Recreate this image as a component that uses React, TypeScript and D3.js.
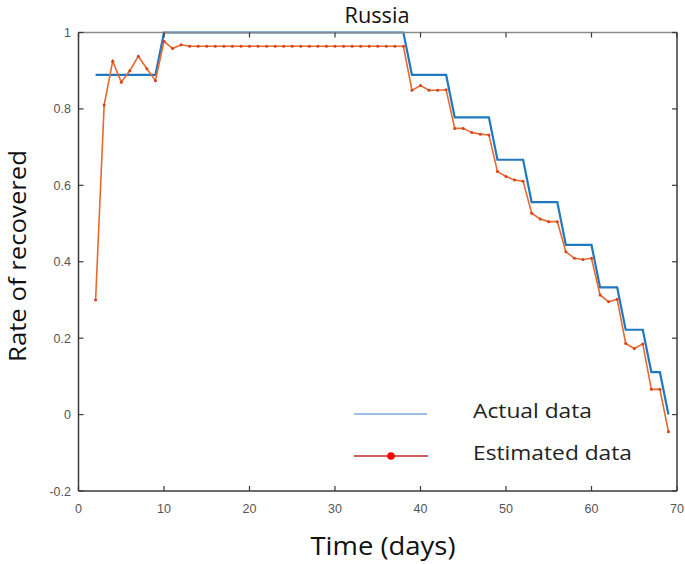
import React from "react";
import * as d3 from "d3";

const days = [2,3,4,5,6,7,8,9,10,11,12,13,14,15,16,17,18,19,20,21,22,23,24,25,26,27,28,29,30,31,32,33,34,35,36,37,38,39,40,41,42,43,44,45,46,47,48,49,50,51,52,53,54,55,56,57,58,59,60,61,62,63,64,65,66,67,68,69];

const actualData = [
  0.889,0.889,0.889,0.889,0.889,0.889,0.889,0.889,
  1,1,1,1,1,1,1,1,1,1,1,1,1,1,1,1,1,1,1,1,1,1,1,1,1,1,1,1,1,
  0.889,0.889,0.889,0.889,0.889,
  0.778,0.778,0.778,0.778,0.778,
  0.667,0.667,0.667,0.667,
  0.556,0.556,0.556,0.556,
  0.444,0.444,0.444,0.444,
  0.333,0.333,0.333,
  0.222,0.222,0.222,
  0.111,0.111,
  0
];

const estimatedData = [
  0.30,0.81,0.925,0.87,0.90,0.938,0.905,0.874,0.977,0.958,0.968,
  0.964,0.964,0.964,0.964,0.964,0.964,0.964,0.964,0.964,0.964,0.964,0.964,0.964,
  0.964,0.964,0.964,0.964,0.964,0.964,0.964,0.964,0.964,0.964,0.964,0.964,0.964,
  0.849,0.861,0.849,0.849,0.85,
  0.749,0.749,0.738,0.734,0.732,
  0.636,0.623,0.614,0.611,
  0.527,0.512,0.505,0.505,
  0.426,0.409,0.406,0.409,
  0.313,0.295,0.302,
  0.186,0.173,0.185,
  0.066,0.066,
  -0.045
];

const xTicks = [0,10,20,30,40,50,60,70];
const yTicks = [-0.2,0,0.2,0.4,0.6,0.8,1];
const yTickLabels = ["-0.2","0","0.2","0.4","0.6","0.8","1"];

const title = "Russia";
const xLabel = "Time (days)";
const yLabel = "Rate of recovered";
const legendLabels = ["Actual data","Estimated data"];

export default function App() {
  const W = 685, H = 564;
  const x = d3.scaleLinear().domain([0,70]).range([78.5,677]);
  const y = d3.scaleLinear().domain([-0.2,1]).range([491,32.5]);
  const line = d3.line<number>().x((_, i) => x(days[i])).y(v => y(v));
  const tickLen = 5;
  const labelFont = "Liberation Sans, Arial, sans-serif";
  const textFont = "'Open Sans', 'Noto Sans', sans-serif";
  return (
    <svg width={W} height={H} style={{position:"absolute",left:0,top:0,background:"#fff"}}>
      <rect x={0} y={0} width={W} height={H} fill="#fff" />
      {/* data */}
      <path d={line(actualData) || ""} fill="none" stroke="#1f78c1" strokeWidth={2.2} />
      <path d={line(estimatedData) || ""} fill="none" stroke="#e8692e" strokeWidth={1.6} />
      {estimatedData.map((v,i) => (
        <circle key={i} cx={x(days[i])} cy={y(v)} r={1.5} fill="#d9421a" />
      ))}
      {/* box */}
      <line x1={x(0)} x2={x(70)} y1={y(1)} y2={y(1)} stroke="#8a8a8a" strokeWidth={1.5} />
      <line x1={x(0)} x2={x(70)} y1={y(-0.2)} y2={y(-0.2)} stroke="#3a3a3a" strokeWidth={1.5} />
      <line x1={x(0)} x2={x(0)} y1={y(1)} y2={y(-0.2)} stroke="#3a3a3a" strokeWidth={1.5} />
      <line x1={x(70)} x2={x(70)} y1={y(1)} y2={y(-0.2)} stroke="#3a3a3a" strokeWidth={1.5} />
      {xTicks.map(t => (
        <g key={"xt"+t}>
          <line x1={x(t)} x2={x(t)} y1={y(-0.2)} y2={y(-0.2)-tickLen} stroke="#3a3a3a" strokeWidth={1.2} />
          <line x1={x(t)} x2={x(t)} y1={y(1)} y2={y(1)+tickLen} stroke="#3a3a3a" strokeWidth={1.2} />
          <text x={x(t)} y={513} textAnchor="middle" fontFamily={labelFont} fontSize={12.5} fill="#555">{t}</text>
        </g>
      ))}
      {yTicks.map((t,i) => (
        <g key={"yt"+t}>
          <line x1={x(0)} x2={x(0)+tickLen} y1={y(t)} y2={y(t)} stroke="#3a3a3a" strokeWidth={1.2} />
          <line x1={x(70)} x2={x(70)-tickLen} y1={y(t)} y2={y(t)} stroke="#3a3a3a" strokeWidth={1.2} />
          <text x={71} y={y(t)+4.5} textAnchor="end" fontFamily={labelFont} fontSize={12.5} fill="#555">{yTickLabels[i]}</text>
        </g>
      ))}
      {/* titles */}
      <text x={377} y={23} textAnchor="middle" fontFamily={textFont} fontSize={21} fill="#111" textLength={65} lengthAdjust="spacingAndGlyphs">{title}</text>
      <text x={383} y={555} textAnchor="middle" fontFamily={textFont} fontSize={25} fill="#111" textLength={145} lengthAdjust="spacingAndGlyphs">{xLabel}</text>
      <text transform="translate(25.5,256) rotate(-90)" textAnchor="middle" fontFamily={textFont} fontSize={23} fill="#111" textLength={212} lengthAdjust="spacingAndGlyphs">{yLabel}</text>
      {/* legend */}
      <line x1={354} x2={427} y1={414} y2={414} stroke="#9dbfe0" strokeWidth={2.2} />
      <text x={473} y={418} fontFamily={textFont} fontSize={20} fill="#222" textLength={119} lengthAdjust="spacingAndGlyphs">{legendLabels[0]}</text>
      <line x1={354} x2={428} y1={456} y2={456} stroke="#d06060" strokeWidth={2} />
      <circle cx={391} cy={456} r={3.8} fill="#ff0000" />
      <text x={473} y={460} fontFamily={textFont} fontSize={20} fill="#222" textLength={159} lengthAdjust="spacingAndGlyphs">{legendLabels[1]}</text>
    </svg>
  );
}
